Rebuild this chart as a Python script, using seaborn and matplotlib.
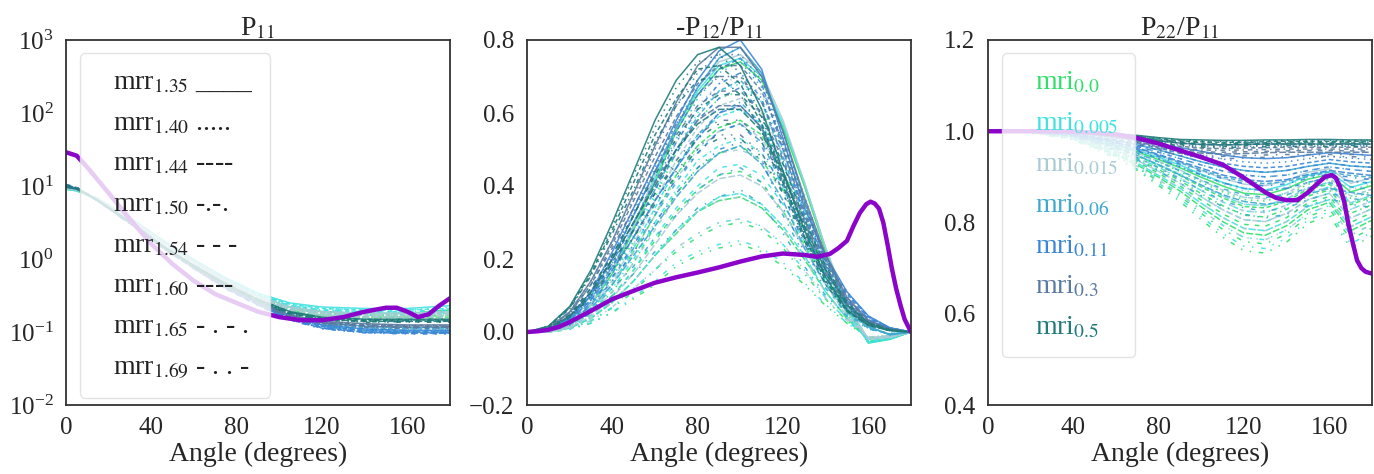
import numpy as np
import pandas as pd
import matplotlib
matplotlib.use("Agg")
import matplotlib.pyplot as plt
from matplotlib.lines import Line2D
import seaborn as sns

# ---------------- data ----------------
MRI_LABELS = ["0.0", "0.005", "0.015", "0.06", "0.11", "0.3", "0.5"]
MRR_LABELS = ["1.35", "1.40", "1.44", "1.50", "1.54", "1.60", "1.65", "1.69"]
MRR_MARKS = ["____", ".....", "----", "-.-.", "- - -", "----", "- . - .", "- . . -"]
MRI_COLORS = ["#2fe06a", "#3fe3e0", "#a9cbd6", "#3ea9cf", "#3a86d6", "#5a7ba0", "#1f7b7a"]

ANG_P11 = [0, 5, 15, 30, 45, 60, 75, 90, 105, 120, 140, 160, 180]
P11_MRI_000 = [
    [9.0, 8.6, 6.5, 3.6, 1.80, 0.95, 0.52, 0.31, 0.22, 0.19, 0.18, 0.18, 0.20],
    [9.1, 8.7, 6.5, 3.6, 1.80, 0.94, 0.51, 0.30, 0.21, 0.18, 0.17, 0.17, 0.19],
    [9.2, 8.8, 6.6, 3.6, 1.78, 0.93, 0.50, 0.30, 0.21, 0.18, 0.17, 0.17, 0.18],
    [9.3, 8.9, 6.6, 3.5, 1.75, 0.92, 0.50, 0.29, 0.20, 0.17, 0.16, 0.16, 0.17],
    [9.4, 9.0, 6.6, 3.5, 1.74, 0.91, 0.49, 0.29, 0.20, 0.17, 0.16, 0.16, 0.17],
    [9.5, 9.0, 6.7, 3.5, 1.72, 0.90, 0.48, 0.28, 0.19, 0.17, 0.16, 0.16, 0.16],
    [9.6, 9.1, 6.7, 3.5, 1.70, 0.89, 0.48, 0.28, 0.19, 0.16, 0.15, 0.15, 0.16],
    [9.7, 9.2, 6.7, 3.4, 1.70, 0.88, 0.47, 0.27, 0.19, 0.16, 0.15, 0.15, 0.16],
]
P11_MRI_0005 = [
    [9.0, 8.6, 6.6, 3.7, 1.85, 0.98, 0.55, 0.34, 0.25, 0.22, 0.21, 0.21, 0.23],
    [9.1, 8.7, 6.6, 3.7, 1.84, 0.97, 0.54, 0.33, 0.24, 0.21, 0.20, 0.20, 0.22],
    [9.2, 8.8, 6.6, 3.6, 1.82, 0.96, 0.53, 0.33, 0.24, 0.21, 0.20, 0.20, 0.21],
    [9.3, 8.9, 6.6, 3.6, 1.80, 0.95, 0.52, 0.32, 0.23, 0.20, 0.19, 0.19, 0.20],
    [9.4, 9.0, 6.7, 3.6, 1.78, 0.94, 0.52, 0.32, 0.23, 0.20, 0.19, 0.19, 0.20],
    [9.5, 9.0, 6.7, 3.5, 1.76, 0.93, 0.51, 0.31, 0.22, 0.19, 0.18, 0.18, 0.19],
    [9.6, 9.1, 6.7, 3.5, 1.74, 0.92, 0.50, 0.30, 0.22, 0.19, 0.18, 0.18, 0.19],
    [9.7, 9.2, 6.7, 3.5, 1.72, 0.91, 0.50, 0.30, 0.21, 0.18, 0.17, 0.17, 0.18],
]
P11_MRI_0015 = [
    [9.2, 8.8, 6.6, 3.6, 1.80, 0.94, 0.52, 0.31, 0.22, 0.19, 0.18, 0.18, 0.19],
    [9.3, 8.9, 6.6, 3.6, 1.78, 0.93, 0.51, 0.31, 0.22, 0.19, 0.18, 0.18, 0.19],
    [9.4, 8.9, 6.6, 3.5, 1.76, 0.92, 0.50, 0.30, 0.21, 0.18, 0.17, 0.17, 0.18],
    [9.5, 9.0, 6.6, 3.5, 1.74, 0.91, 0.50, 0.30, 0.21, 0.18, 0.17, 0.17, 0.18],
    [9.5, 9.0, 6.6, 3.5, 1.72, 0.90, 0.49, 0.29, 0.20, 0.17, 0.16, 0.16, 0.17],
    [9.6, 9.1, 6.6, 3.4, 1.70, 0.89, 0.48, 0.29, 0.20, 0.17, 0.16, 0.16, 0.17],
    [9.7, 9.1, 6.6, 3.4, 1.68, 0.88, 0.48, 0.28, 0.19, 0.17, 0.16, 0.16, 0.16],
    [9.8, 9.2, 6.6, 3.4, 1.66, 0.87, 0.47, 0.28, 0.19, 0.16, 0.15, 0.15, 0.16],
]
P11_MRI_006 = [
    [9.6, 9.1, 6.4, 3.3, 1.55, 0.80, 0.43, 0.26, 0.17, 0.135, 0.12, 0.115, 0.115],
    [9.7, 9.2, 6.4, 3.3, 1.54, 0.79, 0.43, 0.26, 0.17, 0.13, 0.115, 0.11, 0.11],
    [9.8, 9.3, 6.4, 3.2, 1.52, 0.79, 0.42, 0.25, 0.165, 0.13, 0.115, 0.11, 0.11],
    [9.9, 9.3, 6.4, 3.2, 1.50, 0.78, 0.42, 0.25, 0.16, 0.125, 0.11, 0.105, 0.105],
    [10.0, 9.4, 6.4, 3.2, 1.50, 0.77, 0.41, 0.25, 0.16, 0.125, 0.11, 0.105, 0.105],
    [10.1, 9.4, 6.3, 3.2, 1.48, 0.77, 0.41, 0.24, 0.155, 0.12, 0.105, 0.10, 0.10],
    [10.2, 9.5, 6.3, 3.1, 1.47, 0.76, 0.40, 0.24, 0.155, 0.12, 0.105, 0.10, 0.10],
    [10.3, 9.5, 6.3, 3.1, 1.46, 0.75, 0.40, 0.24, 0.15, 0.12, 0.10, 0.10, 0.10],
]
P11_MRI_011 = [
    [9.8, 9.2, 6.3, 3.2, 1.50, 0.77, 0.41, 0.25, 0.16, 0.125, 0.11, 0.105, 0.105],
    [9.9, 9.3, 6.3, 3.2, 1.49, 0.77, 0.41, 0.245, 0.155, 0.12, 0.105, 0.10, 0.10],
    [10.0, 9.4, 6.3, 3.1, 1.48, 0.76, 0.40, 0.24, 0.155, 0.12, 0.105, 0.10, 0.10],
    [10.1, 9.4, 6.3, 3.1, 1.46, 0.75, 0.40, 0.24, 0.15, 0.115, 0.10, 0.098, 0.098],
    [10.2, 9.5, 6.2, 3.1, 1.45, 0.75, 0.40, 0.235, 0.15, 0.115, 0.10, 0.097, 0.097],
    [10.3, 9.5, 6.2, 3.1, 1.44, 0.74, 0.39, 0.235, 0.148, 0.113, 0.099, 0.096, 0.096],
    [10.4, 9.6, 6.2, 3.0, 1.43, 0.74, 0.39, 0.23, 0.147, 0.112, 0.098, 0.095, 0.095],
    [10.5, 9.6, 6.2, 3.0, 1.42, 0.73, 0.39, 0.23, 0.145, 0.11, 0.097, 0.094, 0.094],
]
P11_MRI_03 = [
    [9.7, 9.2, 6.3, 3.2, 1.52, 0.79, 0.43, 0.26, 0.17, 0.14, 0.13, 0.125, 0.125],
    [9.8, 9.2, 6.3, 3.2, 1.51, 0.78, 0.43, 0.26, 0.17, 0.14, 0.128, 0.123, 0.123],
    [9.9, 9.3, 6.3, 3.2, 1.50, 0.78, 0.42, 0.255, 0.168, 0.138, 0.126, 0.121, 0.121],
    [10.0, 9.3, 6.3, 3.2, 1.49, 0.77, 0.42, 0.25, 0.166, 0.136, 0.124, 0.12, 0.12],
    [10.1, 9.4, 6.3, 3.1, 1.48, 0.77, 0.42, 0.25, 0.164, 0.134, 0.122, 0.118, 0.118],
    [10.2, 9.4, 6.3, 3.1, 1.47, 0.76, 0.41, 0.25, 0.162, 0.132, 0.12, 0.116, 0.116],
    [10.3, 9.5, 6.2, 3.1, 1.46, 0.76, 0.41, 0.245, 0.16, 0.13, 0.118, 0.114, 0.114],
    [10.4, 9.5, 6.2, 3.1, 1.45, 0.75, 0.41, 0.245, 0.158, 0.128, 0.116, 0.112, 0.112],
]
P11_MRI_05 = [
    [9.6, 9.1, 6.3, 3.2, 1.55, 0.82, 0.46, 0.28, 0.19, 0.16, 0.15, 0.15, 0.15],
    [9.7, 9.1, 6.3, 3.2, 1.54, 0.81, 0.46, 0.28, 0.19, 0.158, 0.148, 0.148, 0.148],
    [9.8, 9.2, 6.3, 3.2, 1.53, 0.81, 0.45, 0.275, 0.185, 0.156, 0.146, 0.146, 0.146],
    [9.9, 9.2, 6.3, 3.2, 1.52, 0.80, 0.45, 0.27, 0.183, 0.154, 0.144, 0.144, 0.144],
    [10.0, 9.3, 6.3, 3.2, 1.51, 0.80, 0.45, 0.27, 0.181, 0.152, 0.142, 0.142, 0.142],
    [10.1, 9.3, 6.3, 3.1, 1.50, 0.79, 0.44, 0.265, 0.179, 0.15, 0.14, 0.14, 0.14],
    [10.2, 9.4, 6.3, 3.1, 1.49, 0.79, 0.44, 0.265, 0.177, 0.148, 0.138, 0.138, 0.138],
    [10.3, 9.4, 6.3, 3.1, 1.48, 0.78, 0.44, 0.26, 0.175, 0.146, 0.136, 0.136, 0.136],
]

ANG_P12 = [0, 10, 20, 30, 40, 50, 60, 70, 80, 90, 100, 110, 120, 130, 140, 150, 160, 170, 180]
P12_MRI_000 = [
    [0, 0, .022, .074, .16, .28, .41, .55, .65, .72, .74, .69, .56, .40, .22, .074, -.03, -.02, 0],
    [0, 0, .02, .066, .15, .25, .37, .49, .58, .64, .66, .61, .50, .36, .20, .066, -.03, -.02, 0],
    [0, 0, .017, .058, .13, .22, .32, .43, .51, .56, .58, .54, .44, .31, .17, .058, -.028, -.018, 0],
    [0, 0, .015, .051, .11, .19, .29, .38, .45, .49, .51, .47, .39, .28, .15, .051, -.026, -.016, 0],
    [0, 0, .013, .044, .097, .17, .25, .33, .39, .43, .44, .41, .33, .24, .13, .044, -.024, -.014, 0],
    [0, 0, .011, .037, .081, .14, .21, .27, .33, .36, .37, .34, .28, .20, .11, .037, -.02, -.012, 0],
    [0, 0, .009, .03, .066, .11, .17, .22, .26, .29, .30, .28, .23, .16, .09, .03, -.018, -.01, 0],
    [0, 0, .007, .024, .053, .091, .13, .18, .21, .23, .24, .22, .18, .13, .072, .024, -.015, -.008, 0],
]
P12_MRI_0005 = [
    [0, 0, .023, .075, .17, .29, .42, .56, .66, .73, .75, .70, .57, .41, .23, .075, -.03, -.02, 0],
    [0, 0, .02, .068, .15, .26, .38, .50, .60, .66, .68, .63, .52, .37, .20, .068, -.03, -.02, 0],
    [0, 0, .018, .061, .13, .23, .34, .45, .54, .59, .61, .57, .46, .33, .18, .061, -.028, -.018, 0],
    [0, 0, .016, .053, .12, .20, .30, .39, .47, .51, .53, .49, .40, .29, .16, .053, -.026, -.016, 0],
    [0, 0, .014, .046, .10, .17, .26, .34, .40, .45, .46, .43, .35, .25, .14, .046, -.024, -.014, 0],
    [0, 0, .011, .038, .084, .14, .21, .28, .33, .37, .38, .35, .29, .21, .11, .038, -.02, -.012, 0],
    [0, 0, .009, .031, .068, .12, .17, .23, .27, .30, .31, .29, .24, .17, .093, .031, -.018, -.01, 0],
    [0, 0, .008, .025, .055, .095, .14, .19, .22, .24, .25, .23, .19, .135, .075, .025, -.015, -.008, 0],
]
P12_MRI_0015 = [
    [0, 0, .023, .076, .17, .29, .43, .56, .67, .74, .76, .71, .58, .41, .23, .076, -.02, -.015, 0],
    [0, 0, .021, .07, .15, .27, .39, .52, .62, .68, .70, .65, .53, .38, .21, .07, -.02, -.015, 0],
    [0, 0, .019, .064, .14, .24, .36, .47, .56, .62, .64, .60, .49, .35, .19, .064, -.019, -.014, 0],
    [0, 0, .017, .057, .13, .22, .32, .42, .50, .55, .57, .53, .43, .31, .17, .057, -.018, -.013, 0],
    [0, 0, .015, .05, .11, .19, .28, .37, .44, .49, .50, .47, .38, .27, .15, .05, -.017, -.012, 0],
    [0, 0, .013, .043, .095, .16, .24, .32, .38, .42, .43, .40, .33, .23, .13, .043, -.016, -.011, 0],
    [0, 0, .011, .037, .081, .14, .21, .27, .33, .36, .37, .34, .28, .20, .11, .037, -.015, -.01, 0],
    [0, 0, .009, .031, .068, .12, .17, .23, .27, .30, .31, .29, .24, .17, .093, .031, -.014, -.009, 0],
]
P12_MRI_006 = [
    [0, .006, .035, .10, .20, .32, .44, .56, .67, .75, .78, .71, .55, .36, .20, .086, .016, -.008, 0],
    [0, .006, .033, .096, .19, .30, .42, .53, .64, .71, .74, .67, .52, .34, .19, .081, .015, -.007, 0],
    [0, .006, .031, .09, .18, .28, .39, .50, .59, .66, .69, .63, .48, .32, .18, .076, .014, -.007, 0],
    [0, .005, .028, .082, .16, .26, .36, .45, .54, .60, .63, .57, .44, .29, .16, .069, .013, -.006, 0],
    [0, .005, .026, .074, .15, .23, .32, .41, .49, .55, .57, .52, .40, .26, .15, .063, .011, -.006, 0],
    [0, .004, .023, .066, .13, .21, .29, .37, .44, .49, .51, .46, .36, .23, .13, .056, .01, -.005, 0],
    [0, .004, .02, .059, .12, .18, .26, .32, .39, .43, .45, .41, .32, .21, .12, .05, .009, -.005, 0],
    [0, .003, .018, .051, .10, .16, .22, .28, .34, .37, .39, .35, .27, .18, .10, .043, .008, -.004, 0],
]
P12_MRI_011 = [
    [0, .008, .04, .11, .22, .34, .46, .58, .69, .77, .80, .72, .53, .34, .21, .11, .044, .012, 0],
    [0, .008, .039, .11, .21, .33, .45, .57, .67, .75, .78, .70, .51, .33, .20, .11, .043, .012, 0],
    [0, .008, .038, .105, .20, .32, .44, .55, .65, .72, .75, .68, .50, .32, .195, .105, .041, .011, 0],
    [0, .007, .036, .10, .19, .30, .41, .52, .61, .68, .71, .64, .47, .30, .185, .10, .039, .011, 0],
    [0, .007, .034, .094, .18, .28, .39, .49, .58, .64, .67, .60, .44, .28, .17, .094, .037, .01, 0],
    [0, .006, .031, .087, .17, .26, .36, .45, .53, .60, .62, .56, .41, .26, .16, .087, .034, .009, 0],
    [0, .006, .029, .08, .15, .24, .33, .42, .49, .55, .57, .51, .38, .24, .15, .08, .031, .009, 0],
    [0, .005, .026, .073, .14, .22, .30, .38, .45, .50, .52, .47, .34, .22, .135, .073, .029, .008, 0],
]
P12_MRI_03 = [
    [0, .012, .055, .14, .25, .38, .51, .63, .73, .78, .78, .70, .55, .37, .21, .095, .032, .008, 0],
    [0, .012, .054, .14, .25, .37, .50, .62, .71, .76, .76, .69, .54, .36, .21, .092, .031, .008, 0],
    [0, .011, .052, .13, .24, .36, .48, .59, .68, .73, .73, .66, .52, .35, .20, .089, .03, .007, 0],
    [0, .011, .05, .13, .23, .34, .46, .57, .65, .70, .70, .63, .50, .33, .19, .085, .028, .007, 0],
    [0, .01, .047, .12, .21, .32, .44, .54, .62, .66, .66, .60, .47, .31, .18, .08, .027, .007, 0],
    [0, .009, .044, .11, .20, .30, .41, .50, .58, .62, .62, .56, .44, .30, .17, .076, .025, .006, 0],
    [0, .009, .041, .11, .19, .28, .38, .47, .54, .58, .58, .53, .41, .28, .16, .071, .024, .006, 0],
    [0, .008, .039, .10, .18, .26, .36, .44, .51, .54, .54, .49, .39, .26, .15, .066, .022, .006, 0],
]
P12_MRI_05 = [
    [0, .016, .07, .17, .30, .44, .58, .69, .76, .78, .73, .61, .44, .28, .15, .06, .02, .004, 0],
    [0, .015, .068, .167, .29, .43, .56, .67, .74, .76, .71, .59, .43, .27, .14, .06, .019, .004, 0],
    [0, .015, .066, .16, .28, .41, .54, .64, .72, .73, .68, .57, .42, .26, .14, .058, .018, .004, 0],
    [0, .014, .063, .154, .27, .39, .52, .62, .69, .70, .65, .55, .40, .25, .13, .056, .018, .004, 0],
    [0, .01, .046, .12, .21, .32, .43, .53, .61, .65, .65, .59, .46, .31, .18, .08, .026, .007, 0],
    [0, .009, .043, .11, .20, .30, .40, .50, .57, .61, .61, .55, .43, .29, .17, .074, .025, .006, 0],
    [0, .009, .041, .10, .19, .28, .38, .46, .53, .57, .57, .52, .41, .27, .16, .07, .023, .006, 0],
    [0, .008, .038, .097, .17, .26, .35, .43, .50, .53, .53, .48, .38, .25, .15, .065, .022, .005, 0],
]

ANG_P22 = [0, 20, 40, 60, 70, 80, 90, 100, 110, 120, 130, 140, 150, 160, 170, 180]
P22_MRI_000 = [
    [1, .999, .990, .969, .955, .938, .920, .899, .880, .864, .861, .874, .895, .905, .867, .881],
    [1, .998, .989, .966, .950, .932, .912, .888, .867, .850, .847, .860, .884, .895, .853, .868],
    [1, .998, .988, .963, .946, .925, .903, .878, .854, .835, .832, .847, .873, .884, .839, .856],
    [1, .998, .987, .958, .939, .916, .892, .863, .837, .816, .812, .829, .858, .871, .820, .839],
    [1, .998, .985, .954, .933, .908, .880, .849, .819, .796, .792, .811, .843, .857, .800, .822],
    [1, .998, .984, .949, .926, .899, .869, .834, .802, .777, .772, .793, .828, .844, .782, .805],
    [1, .998, .983, .945, .920, .890, .858, .820, .785, .758, .753, .775, .813, .830, .763, .788],
    [1, .997, .981, .941, .914, .881, .846, .806, .768, .738, .733, .757, .798, .816, .744, .771],
]
P22_MRI_0005 = [
    [1, .999, .991, .971, .958, .943, .926, .906, .888, .874, .871, .883, .903, .912, .877, .890],
    [1, .999, .990, .967, .952, .934, .915, .892, .871, .855, .852, .865, .888, .898, .858, .873],
    [1, .998, .988, .964, .947, .927, .906, .881, .858, .840, .837, .852, .876, .888, .843, .860],
    [1, .998, .987, .960, .942, .921, .897, .870, .845, .825, .822, .838, .865, .878, .829, .847],
    [1, .998, .986, .956, .936, .912, .886, .856, .828, .806, .802, .820, .850, .864, .810, .830],
    [1, .998, .985, .952, .930, .903, .875, .842, .811, .787, .782, .802, .835, .850, .791, .813],
    [1, .998, .983, .947, .923, .894, .863, .827, .794, .767, .762, .784, .820, .837, .772, .796],
    [1, .997, .982, .943, .917, .886, .852, .813, .776, .748, .743, .766, .805, .823, .753, .779],
]
P22_MRI_0015 = [
    [1, .999, .992, .974, .962, .947, .932, .914, .897, .884, .881, .892, .910, .918, .886, .898],
    [1, .999, .991, .970, .957, .941, .923, .903, .884, .869, .866, .879, .899, .908, .872, .885],
    [1, .999, .990, .967, .952, .934, .915, .892, .871, .855, .852, .865, .888, .898, .858, .873],
    [1, .998, .988, .964, .947, .927, .906, .881, .858, .840, .837, .852, .876, .888, .843, .860],
    [1, .998, .987, .960, .942, .921, .897, .870, .845, .825, .822, .838, .865, .878, .829, .847],
    [1, .998, .986, .956, .936, .912, .886, .856, .828, .806, .802, .820, .850, .864, .810, .830],
    [1, .998, .985, .952, .930, .903, .875, .842, .811, .787, .782, .802, .835, .850, .791, .813],
    [1, .998, .983, .947, .923, .894, .863, .827, .794, .767, .762, .784, .820, .837, .772, .796],
]
P22_MRI_006 = [
    [1, .999, .994, .980, .970, .959, .946, .933, .922, .914, .910, .914, .923, .930, .924, .921],
    [1, .999, .993, .978, .967, .954, .940, .926, .913, .904, .900, .904, .914, .922, .916, .912],
    [1, .999, .992, .975, .962, .947, .931, .915, .900, .890, .885, .890, .901, .910, .903, .899],
    [1, .999, .991, .971, .957, .940, .922, .904, .887, .875, .870, .875, .888, .899, .891, .886],
    [1, .999, .990, .968, .952, .933, .913, .893, .874, .861, .855, .861, .875, .887, .878, .872],
    [1, .998, .989, .965, .947, .926, .904, .882, .861, .846, .840, .846, .862, .875, .866, .859],
    [1, .998, .988, .962, .942, .920, .895, .871, .848, .832, .825, .832, .850, .864, .853, .846],
    [1, .998, .987, .958, .937, .913, .886, .859, .835, .818, .810, .818, .837, .852, .840, .833],
]
P22_MRI_011 = [
    [1, .999, .996, .987, .980, .972, .964, .956, .948, .942, .940, .942, .948, .953, .950, .947],
    [1, .999, .995, .985, .977, .968, .958, .948, .939, .933, .930, .933, .940, .945, .941, .938],
    [1, .999, .994, .982, .974, .963, .952, .941, .930, .923, .920, .923, .931, .938, .933, .930],
    [1, .999, .994, .980, .970, .959, .946, .933, .922, .914, .910, .914, .923, .930, .924, .921],
    [1, .999, .993, .978, .967, .954, .940, .926, .913, .904, .900, .904, .914, .922, .916, .912],
    [1, .999, .992, .976, .964, .949, .934, .919, .904, .894, .890, .894, .905, .914, .908, .903],
    [1, .999, .992, .974, .960, .945, .928, .911, .896, .885, .880, .885, .897, .906, .899, .894],
    [1, .999, .991, .971, .957, .940, .922, .904, .887, .875, .870, .875, .888, .899, .891, .886],
]
P22_MRI_03 = [
    [1, 1, .998, .993, .987, .979, .974, .971, .970, .971, .972, .972, .972, .972, .972, .972],
    [1, 1, .998, .992, .985, .976, .970, .967, .966, .967, .968, .968, .969, .969, .968, .968],
    [1, 1, .998, .991, .983, .973, .967, .963, .962, .963, .964, .965, .965, .965, .965, .965],
    [1, 1, .998, .990, .981, .971, .963, .959, .958, .959, .960, .961, .961, .961, .961, .961],
    [1, 1, .998, .989, .979, .968, .960, .955, .954, .955, .956, .957, .958, .958, .957, .957],
    [1, 1, .998, .988, .978, .965, .956, .952, .950, .951, .953, .954, .954, .954, .954, .954],
    [1, 1, .997, .986, .975, .962, .952, .947, .945, .946, .948, .949, .949, .949, .949, .949],
    [1, 1, .997, .985, .973, .958, .947, .942, .940, .941, .943, .944, .945, .945, .944, .944],
]
P22_MRI_05 = [
    [1, 1, .999, .995, .991, .986, .982, .981, .980, .980, .981, .981, .982, .982, .981, .981],
    [1, 1, .999, .995, .990, .985, .981, .979, .978, .978, .979, .980, .980, .980, .980, .980],
    [1, 1, .999, .994, .989, .983, .979, .977, .976, .976, .977, .978, .978, .978, .978, .978],
    [1, 1, .999, .994, .988, .982, .977, .975, .974, .975, .975, .976, .976, .976, .976, .976],
    [1, 1, .999, .993, .987, .980, .975, .973, .972, .973, .973, .974, .974, .974, .974, .974],
    [1, 1, .998, .993, .987, .979, .974, .971, .970, .971, .972, .972, .972, .972, .972, .972],
    [1, 1, .998, .992, .985, .977, .971, .968, .967, .968, .969, .969, .970, .970, .969, .969],
    [1, 1, .998, .991, .984, .975, .968, .965, .964, .965, .966, .967, .967, .967, .967, .967],
]

# observation (thick purple curve)
OBS_ANG_P11 = [0, 5, 10, 20, 30, 40, 50, 60, 70, 80, 90, 100, 110, 120, 130, 140, 150, 155, 160, 165, 170, 175, 180]
OBS_P11 = [29, 26, 18, 8.0, 3.5, 1.6, 0.85, 0.5, 0.33, 0.25, 0.19, 0.16, 0.145, 0.145, 0.16, 0.19,
           0.215, 0.215, 0.19, 0.16, 0.175, 0.23, 0.29]
OBS_ANG_P12 = [0, 5, 10, 15, 20, 30, 40, 50, 60, 70, 80, 90, 100, 110, 120, 130, 136, 142, 146, 150,
               153, 156, 159, 161, 163, 165, 167, 169, 171, 173, 175, 177, 180]
OBS_P12 = [0, .002, .006, .014, .027, .058, .09, .113, .135, .15, .163, .177, .193, .207, .215, .211,
           .206, .214, .23, .25, .29, .326, .35, .357, .352, .338, .30, .24, .175, .12, .075, .035, 0]
OBS_ANG_P22 = [0, 10, 20, 30, 40, 50, 60, 70, 80, 90, 100, 110, 120, 130, 135, 140, 145, 150, 155,
               158, 161, 163, 165, 167, 169, 171, 173, 175, 177, 180]
OBS_P22 = [1.0, 1.0, 1.0, 1.0, .999, .997, .993, .985, .973, .958, .943, .927, .898, .866, .854, .849,
           .849, .866, .888, .900, .904, .898, .878, .845, .795, .755, .717, .700, .692, .688]

P11_TABLES = [P11_MRI_000, P11_MRI_0005, P11_MRI_0015, P11_MRI_006, P11_MRI_011, P11_MRI_03, P11_MRI_05]
P12_TABLES = [P12_MRI_000, P12_MRI_0005, P12_MRI_0015, P12_MRI_006, P12_MRI_011, P12_MRI_03, P12_MRI_05]
P22_TABLES = [P22_MRI_000, P22_MRI_0005, P22_MRI_0015, P22_MRI_006, P22_MRI_011, P22_MRI_03, P22_MRI_05]

DASHES = {
    "1.35": "",
    "1.40": (1, 3),
    "1.44": (3, 1.8),
    "1.50": (3, 2.5, 1, 2.5),
    "1.54": (3, 4),
    "1.60": (4.5, 1.5),
    "1.65": (3, 5, 1, 5),
    "1.69": (3, 5, 1, 5, 1, 5),
}


def build_frame(angles, tables):
    rows = []
    for mri, table in zip(MRI_LABELS, tables):
        for mrr, vals in zip(MRR_LABELS, table):
            for a, v in zip(angles, vals):
                rows.append({"angle": a, "value": v, "mri": mri, "mrr": mrr})
    return pd.DataFrame(rows)


# ---------------- style ----------------
sns.set_theme(style="white")
plt.rcParams["font.family"] = ["Liberation Serif", "DejaVu Serif"]
plt.rcParams["mathtext.fontset"] = "stix"
plt.rcParams["axes.edgecolor"] = "#333333"
plt.rcParams["axes.linewidth"] = 1.3

fig = plt.figure(figsize=(13.74, 4.74), dpi=100)
W, H = 1374.0, 474.0
axes_px = [(66, 450), (527, 911), (988, 1372)]
top_px, bot_px = 40, 405
axes = [fig.add_axes([l / W, (H - bot_px) / H, (r - l) / W, (bot_px - top_px) / H]) for l, r in axes_px]

palette = dict(zip(MRI_LABELS, MRI_COLORS))
purple = "#8a05c9"

specs = [
    (ANG_P11, P11_TABLES, OBS_ANG_P11, OBS_P11, r"P$_{11}$"),
    (ANG_P12, P12_TABLES, OBS_ANG_P12, OBS_P12, r"-P$_{12}$/P$_{11}$"),
    (ANG_P22, P22_TABLES, OBS_ANG_P22, OBS_P22, r"P$_{22}$/P$_{11}$"),
]

for ax, (ang, tabs, oang, oval, title) in zip(axes, specs):
    df = build_frame(ang, tabs)
    sns.lineplot(data=df, x="angle", y="value", hue="mri", style="mrr",
                 hue_order=MRI_LABELS, style_order=MRR_LABELS,
                 palette=palette, dashes=DASHES, estimator=None, sort=False,
                 legend=False, linewidth=1.1, alpha=0.9, ax=ax)
    sns.lineplot(x=oang, y=oval, color=purple, linewidth=3.2, ax=ax)
    ax.set_title(title, fontsize=20, pad=3)
    ax.set_xlabel("Angle (degrees)", fontsize=20, labelpad=2)
    ax.set_ylabel("")
    ax.set_xlim(0, 180)
    ax.set_xticks([0, 40, 80, 120, 160])
    ax.tick_params(labelsize=18, pad=3)

axes[0].set_yscale("log")
axes[0].set_ylim(1e-2, 1e3)
axes[1].set_ylim(-0.2, 0.8)
axes[1].set_yticks([-0.2, 0.0, 0.2, 0.4, 0.6, 0.8])
axes[1].set_yticklabels(["\u22120.2", "0.0", "0.2", "0.4", "0.6", "0.8"])
axes[2].set_ylim(0.4, 1.2)
axes[2].set_yticks([0.4, 0.6, 0.8, 1.0, 1.2])
axes[2].set_yticklabels(["0.4", "0.6", "0.8", "1.0", "1.2"])

common = dict(loc="upper left", bbox_to_anchor=(0.036, 0.964), borderaxespad=0,
              fontsize=20, handlelength=0.6, handletextpad=0.0, labelspacing=0.55,
              borderpad=0.6, frameon=True, fancybox=True, framealpha=0.8,
              edgecolor="#dddddd", facecolor="white")

# legend: real part of refractive index (line styles written as text)
mrr_handles = [Line2D([], [], color="none") for _ in MRR_LABELS]
mrr_texts = [f"mrr$_{{{m}}}$ {mk}" for m, mk in zip(MRR_LABELS, MRR_MARKS)]
leg1 = axes[0].legend(mrr_handles, mrr_texts, labelcolor="#222222", **common)
leg1.set_zorder(5)

# legend: imaginary part (colored text)
mri_handles = [Line2D([], [], color="none") for _ in MRI_LABELS]
leg3 = axes[2].legend(mri_handles, [f"mri$_{{{m}}}$" for m in MRI_LABELS],
                      labelcolor=MRI_COLORS, **common)
leg3.set_zorder(5)

fig.savefig("out.png", dpi=100)
